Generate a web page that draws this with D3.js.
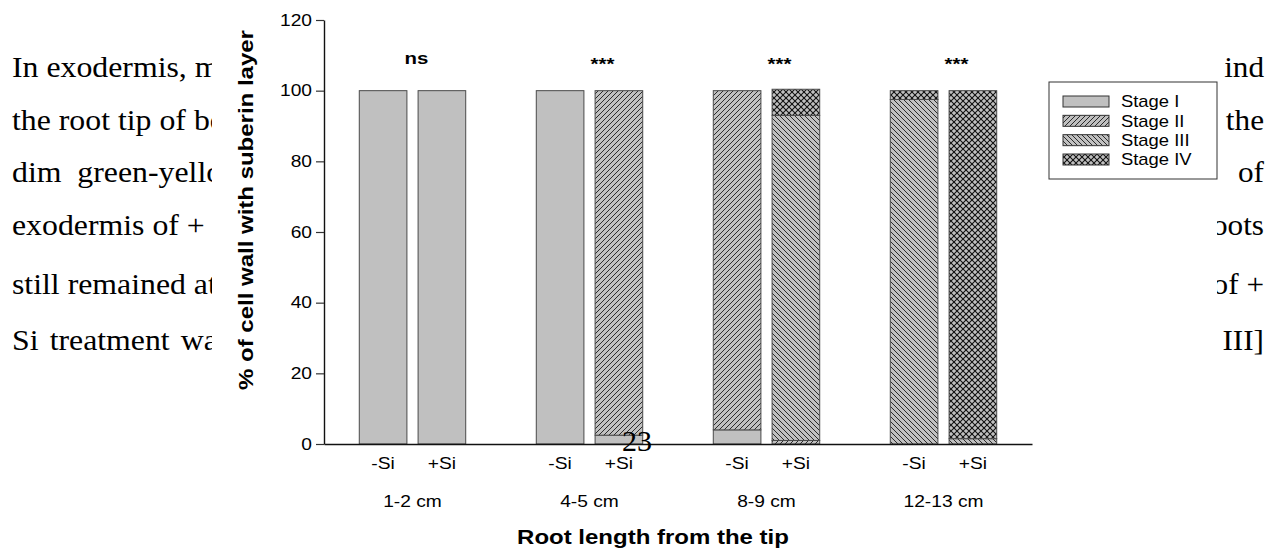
<!DOCTYPE html>
<html>
<head>
<meta charset="utf-8">
<script src="https://cdn.jsdelivr.net/npm/d3@7"></script>
<style>
  body { margin: 0; background: #fff; }
  svg { display: block; }
</style>
</head>
<body>
<div id="chart"></div>
<script>
// ---- values ----
var groups = ["1-2 cm", "4-5 cm", "8-9 cm", "12-13 cm"];
var treatments = ["-Si", "+Si"];
var stages = ["Stage I", "Stage II", "Stage III", "Stage IV"];
// one value per bar: -Si, +Si for each root segment
var stageI   = [100, 100, 100, 2.5, 4, 0, 0, 0];
var stageII  = [0, 0, 0, 97.5, 96, 1, 0, 0];
var stageIII = [0, 0, 0, 0, 0, 92, 97.5, 1.5];
var stageIV  = [0, 0, 0, 0, 0, 7.4, 2.5, 98.5];
var signif = ["ns", "***", "***", "***"];
var yTicks = [0, 20, 40, 60, 80, 100, 120];

// page text showing around the figure
var leftLines = ["In exodermis, more", "the root tip of both", "dim  green-yellow", "exodermis of + Si", "still remained at", "Si treatment was"];
var rightLines = ["ind", "the", "of", "roots", "of +", "III]"];
var pageNo = "23";

var svgWidth = 1278, svgHeight = 550;
var chartFont = "Arial, 'Liberation Sans', sans-serif";
var pageFont = "'Times New Roman', 'Liberation Serif', serif";
var textStretch = 1.2; // figure text is drawn wide

var svg = d3.select("#chart")
  .append("svg")
  .attr("width", svgWidth)
  .attr("height", svgHeight);

var defs = svg.append("defs");

// stretch a text element horizontally about its own x
function stretch(sel, sx) {
  sel.each(function() {
    var t = d3.select(this);
    var x = +t.attr("x") || 0;
    t.attr("transform", `translate(${x * (1 - sx)},0) scale(${sx},1)`);
  });
}

// ---- page text (behind the figure) ----
defs.append("clipPath").attr("id", "clipLeft")
  .append("rect").attr("x", 0).attr("y", 0).attr("width", 212).attr("height", svgHeight);
defs.append("clipPath").attr("id", "clipRight")
  .append("rect").attr("x", 1217).attr("y", 0).attr("width", 70).attr("height", svgHeight);

var lineBase = [77, 130, 182, 235, 294, 350];

svg.append("g").attr("clip-path", "url(#clipLeft)")
  .selectAll("text")
  .data(leftLines)
  .enter()
  .append("text")
  .attr("x", 12)
  .attr("y", (d, i) => lineBase[i])
  .attr("font-family", pageFont)
  .attr("font-size", "30px")
  .attr("fill", "#000")
  .style("white-space", "pre")
  .attr("word-spacing", (d, i) => i === 5 ? 3 : 0)
  .text(d => d)
  .call(stretch, 1.06);

svg.append("g").attr("clip-path", "url(#clipRight)")
  .selectAll("text")
  .data(rightLines)
  .enter()
  .append("text")
  .attr("x", 1264)
  .attr("y", (d, i) => lineBase[i])
  .attr("text-anchor", "end")
  .attr("font-family", pageFont)
  .attr("font-size", "30px")
  .attr("fill", "#000")
  .text(d => d)
  .call(stretch, 1.04);

// ---- hatch fills ----
function hatch(id, size, paths, stroke, sw) {
  var p = defs.append("pattern")
    .attr("id", id)
    .attr("patternUnits", "userSpaceOnUse")
    .attr("width", size)
    .attr("height", size);
  p.append("rect").attr("width", size).attr("height", size).attr("fill", "#c0c0c0");
  paths.forEach(function(d) {
    p.append("path").attr("d", d).attr("fill", "none")
      .attr("stroke", stroke).attr("stroke-width", sw);
  });
}
hatch("stage1", 5, [], "#000", 0);
hatch("stage2", 5, ["M0,5L5,0", "M-1,1L1,-1", "M4,6L6,4"], "#1a1a1a", 0.9);
hatch("stage3", 5, ["M0,0L5,5", "M-1,4L1,6", "M4,-1L6,1"], "#1a1a1a", 0.9);
hatch("stage4", 6, ["M0,6L6,0", "M-1,1L1,-1", "M5,7L7,5", "M0,0L6,6", "M-1,5L1,7", "M5,-1L7,1"], "#111", 1.1);
var fills = ["url(#stage1)", "url(#stage2)", "url(#stage3)", "url(#stage4)"];

// ---- scales ----
var margin = { top: 20, left: 324 };
var chartWidth = 708, chartHeight = 424;

var chartGroup = svg.append("g")
  .attr("transform", `translate(${margin.left}, ${margin.top})`);

var x0 = d3.scaleBand()
  .domain(groups)
  .range([0, chartWidth]);

var x1 = d3.scaleBand()
  .domain(treatments)
  .range([0, x0.bandwidth()])
  .paddingInner(0.19)
  .paddingOuter(0.6);

var y = d3.scaleLinear()
  .domain([0, 120])
  .range([chartHeight, 0]);

// ---- bars ----
var bars = [];
groups.forEach(function(g, gi) {
  treatments.forEach(function(t, ti) {
    var i = gi * 2 + ti;
    bars.push({
      group: g, treat: t,
      "Stage I": stageI[i], "Stage II": stageII[i],
      "Stage III": stageIII[i], "Stage IV": stageIV[i]
    });
  });
});

var series = d3.stack().keys(stages)(bars);

chartGroup.selectAll("g.layer")
  .data(series)
  .enter()
  .append("g")
  .attr("class", "layer")
  .attr("fill", (d, i) => fills[i])
  .selectAll("rect")
  .data(d => d.filter(s => s[1] - s[0] > 0))
  .enter()
  .append("rect")
  .attr("x", d => x0(d.data.group) + x1(d.data.treat))
  .attr("y", d => y(d[1]))
  .attr("width", x1.bandwidth())
  .attr("height", d => y(d[0]) - y(d[1]))
  .attr("stroke", "#4a4a4a")
  .attr("stroke-width", 1);

// ---- axes ----
var leftAxis = d3.axisLeft(y)
  .tickValues(yTicks)
  .tickSize(8)
  .tickSizeOuter(0)
  .tickPadding(4);

var yAxisG = chartGroup.append("g").call(leftAxis);
yAxisG.select(".domain").attr("stroke", "#111").attr("stroke-width", 1.4);
yAxisG.selectAll(".tick line").attr("stroke", "#333").attr("stroke-width", 1.2);
yAxisG.selectAll(".tick text")
  .attr("font-family", chartFont)
  .attr("font-size", "16px")
  .attr("fill", "#000")
  .call(stretch, textStretch);

var bottomAxis = d3.axisBottom(x0).tickSize(0).tickSizeOuter(0).tickFormat("");
var xAxisG = chartGroup.append("g")
  .attr("transform", `translate(0, ${chartHeight})`)
  .call(bottomAxis);
xAxisG.select(".domain").attr("stroke", "#111").attr("stroke-width", 1.6);

// treatment labels under each bar
chartGroup.selectAll("text.treat")
  .data(bars)
  .enter()
  .append("text")
  .attr("class", "treat")
  .attr("x", d => x0(d.group) + x1(d.treat) + x1.bandwidth() / 2)
  .attr("y", chartHeight + 25)
  .attr("text-anchor", "middle")
  .attr("font-family", chartFont)
  .attr("font-size", "16px")
  .text(d => d.treat)
  .call(stretch, textStretch);

// segment labels
chartGroup.selectAll("text.group")
  .data(groups)
  .enter()
  .append("text")
  .attr("class", "group")
  .attr("x", d => x0(d) + x0.bandwidth() / 2)
  .attr("y", chartHeight + 63)
  .attr("text-anchor", "middle")
  .attr("font-family", chartFont)
  .attr("font-size", "16px")
  .text(d => d)
  .call(stretch, textStretch);

// significance marks
chartGroup.selectAll("text.sig")
  .data(signif)
  .enter()
  .append("text")
  .attr("class", "sig")
  .attr("x", (d, i) => x0(groups[i]) + x0.bandwidth() / 2 + (d === "ns" ? 4 : 13))
  .attr("y", d => d === "ns" ? 44 : 50)
  .attr("text-anchor", "middle")
  .attr("font-family", chartFont)
  .attr("font-weight", "bold")
  .attr("font-size", "17px")
  .text(d => d)
  .call(stretch, textStretch);

// axis titles
chartGroup.append("text")
  .attr("transform", `translate(-71, 190) rotate(-90) scale(${textStretch},1)`)
  .attr("text-anchor", "middle")
  .attr("font-family", chartFont)
  .attr("font-weight", "bold")
  .attr("font-size", "20px")
  .text("% of cell wall with suberin layer");

chartGroup.append("text")
  .attr("x", 329)
  .attr("y", chartHeight + 100)
  .attr("text-anchor", "middle")
  .attr("font-family", chartFont)
  .attr("font-weight", "bold")
  .attr("font-size", "20px")
  .text("Root length from the tip")
  .call(stretch, textStretch);

// ---- legend ----
var legend = svg.append("g").attr("transform", "translate(1049, 82)");
legend.append("rect")
  .attr("width", 168)
  .attr("height", 97)
  .attr("fill", "#fff")
  .attr("stroke", "#333")
  .attr("stroke-width", 1);

var legendRow = d3.scalePoint().domain(stages).range([19.5, 77.5]);

legend.selectAll("rect.swatch")
  .data(stages)
  .enter()
  .append("rect")
  .attr("class", "swatch")
  .attr("x", 14)
  .attr("y", d => legendRow(d) - 5.5)
  .attr("width", 46)
  .attr("height", 11)
  .attr("fill", (d, i) => fills[i])
  .attr("stroke", "#333")
  .attr("stroke-width", 1);

legend.selectAll("text")
  .data(stages)
  .enter()
  .append("text")
  .attr("x", 72)
  .attr("y", d => legendRow(d) + 6)
  .attr("font-family", chartFont)
  .attr("font-size", "16px")
  .text(d => d)
  .call(stretch, 1.15);

// ---- page number, printed over the figure ----
svg.append("text")
  .attr("x", 622)
  .attr("y", 451)
  .attr("font-family", pageFont)
  .attr("font-size", "30px")
  .text(pageNo);
</script>
</body>
</html>
